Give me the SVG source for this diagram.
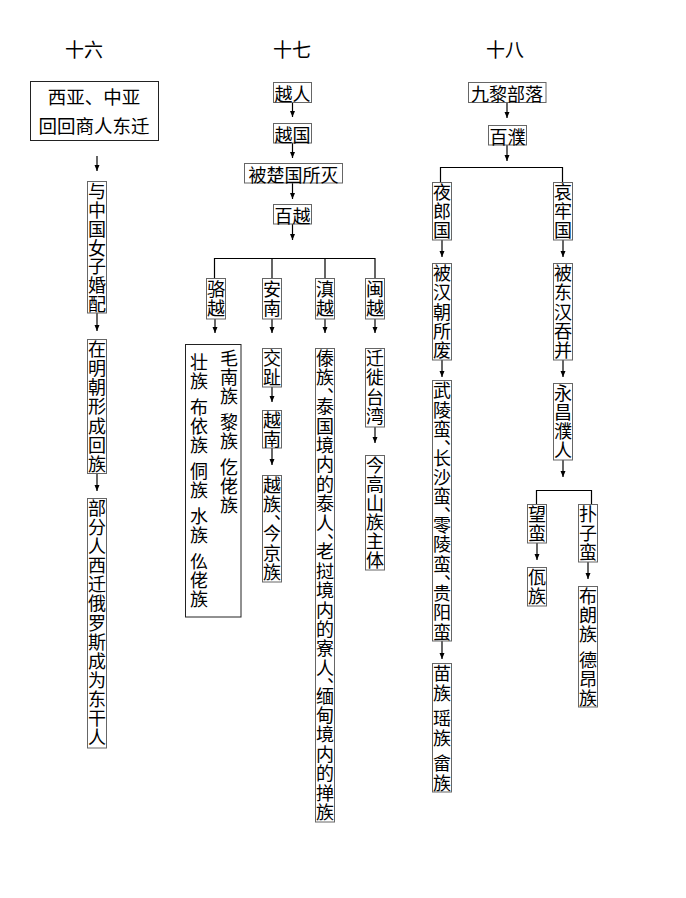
<svg xmlns="http://www.w3.org/2000/svg" width="686" height="898" viewBox="0 0 686 898">
<defs>
<style>
.t { font-family: "Noto Sans CJK SC", "Noto Sans CJK TC", sans-serif; font-size: 18px; fill: #000; text-anchor: middle; dominant-baseline: central; }
.v { font-family: "Noto Sans CJK SC", "Noto Sans CJK TC", sans-serif; font-size: 18px; fill: #000; writing-mode: vertical-rl; text-anchor: start; letter-spacing: 1.4px; }
.v .p { font-feature-settings: "vhal" 1; letter-spacing: 0; }
.h { font-size: 19px; }
.b { fill: #fff; stroke: #666; stroke-width: 1; }
.bb { fill: #fff; stroke: #222; stroke-width: 1; }
.c { stroke: #000; stroke-width: 1.2; fill: none; }
.a { marker-end: url(#ah); }
</style>
<marker id="ah" markerUnits="userSpaceOnUse" markerWidth="6" markerHeight="7" viewBox="0 0 6 7" refX="6" refY="3.5" orient="auto">
<path d="M0,1 L6,3.5 L0,6 z" fill="#000"/>
</marker>
</defs>
<rect width="686" height="898" fill="#fff"/>

<g id="headers">
<text class="t h" x="84" y="48">十六</text>
<text class="t h" x="292" y="48">十七</text>
<text class="t h" x="505" y="48">十八</text>
</g>

<g id="connectors">
<line class="c a" x1="97" y1="156" x2="97" y2="171"/>
<line class="c a" x1="97" y1="313" x2="97" y2="331"/>
<line class="c a" x1="97" y1="474" x2="97" y2="491"/>

<line class="c a" x1="292.5" y1="103" x2="292.5" y2="117"/>
<line class="c a" x1="292.5" y1="143" x2="292.5" y2="158"/>
<line class="c a" x1="292.5" y1="183" x2="292.5" y2="199"/>
<line class="c a" x1="292.5" y1="224" x2="292.5" y2="240"/>
<path class="c" d="M214.5,278 V258.5 H375 V278 M272,258.5 V278 M325,258.5 V278"/>
<line class="c a" x1="215" y1="319" x2="215" y2="333"/>
<line class="c a" x1="272" y1="319" x2="272" y2="333"/>
<line class="c a" x1="325" y1="319" x2="325" y2="333"/>
<line class="c a" x1="375" y1="319" x2="375" y2="333"/>
<line class="c a" x1="272" y1="387" x2="272" y2="402"/>
<line class="c a" x1="272" y1="448" x2="272" y2="465"/>
<line class="c a" x1="375" y1="427" x2="375" y2="443"/>

<line class="c a" x1="507" y1="103" x2="507" y2="118"/>
<line class="c a" x1="507" y1="145" x2="507" y2="161"/>
<path class="c" d="M440.5,182 V167.5 H562.5 V182"/>
<line class="c a" x1="442" y1="240" x2="442" y2="257"/>
<line class="c a" x1="563" y1="240" x2="563" y2="257"/>
<line class="c a" x1="442" y1="360" x2="442" y2="377"/>
<line class="c a" x1="563" y1="360" x2="563" y2="377"/>
<line class="c a" x1="442" y1="641" x2="442" y2="659"/>
<line class="c a" x1="563" y1="460" x2="563" y2="477"/>
<path class="c" d="M536.5,504 V490.5 H591.5 V504"/>
<line class="c a" x1="537" y1="543" x2="537" y2="560"/>
<line class="c a" x1="588" y1="562" x2="588" y2="579"/>
</g>

<!-- 十六 -->
<g id="n16-1">
<rect class="bb" x="30.5" y="81.5" width="128" height="59"/>
<text class="t" x="94" y="96" style="font-size:18.5px">西亚、中亚</text>
<text class="t" x="94" y="125" style="font-size:18.5px">回回商人东迁</text>
</g>
<g id="n16-2">
<rect class="b" x="87.5" y="181.5" width="19" height="131.5"/>
<text class="v" x="97" y="182" style="letter-spacing:0.9px">与中国女子婚配</text>
</g>
<g id="n16-3">
<rect class="b" x="87.5" y="339.5" width="19" height="134"/>
<text class="v" x="97" y="340" style="letter-spacing:1.2px">在明朝形成回族</text>
</g>
<g id="n16-4">
<rect class="b" x="87.5" y="498.5" width="19" height="249.5"/>
<text class="v" x="97" y="498.8" style="letter-spacing:1.15px">部分人西迁俄罗斯成为东干人</text>
</g>

<!-- 十七 -->
<g id="n17-1">
<rect class="b" x="273.5" y="82.5" width="38" height="20"/>
<text class="t" x="292.5" y="92.5">越人</text>
</g>
<g id="n17-2">
<rect class="b" x="273.5" y="123.5" width="38" height="19.5"/>
<text class="t" x="292.5" y="133.5">越国</text>
</g>
<g id="n17-3">
<rect class="b" x="244.5" y="163.5" width="98" height="19.5"/>
<text class="t" x="293.5" y="173.5">被楚国所灭</text>
</g>
<g id="n17-4">
<rect class="b" x="273.5" y="204.5" width="38" height="19.5"/>
<text class="t" x="292.5" y="214.5">百越</text>
</g>
<g id="n17-luoyue">
<rect class="b" x="206.5" y="278.5" width="19" height="40.5"/>
<text class="v" x="216" y="280" style="letter-spacing:1.5px">骆越</text>
</g>
<g id="n17-annan">
<rect class="b" x="262.5" y="278.5" width="19" height="40.5"/>
<text class="v" x="272" y="280" style="letter-spacing:1.5px">安南</text>
</g>
<g id="n17-dianyue">
<rect class="b" x="315.5" y="278.5" width="19" height="40.5"/>
<text class="v" x="325" y="280" style="letter-spacing:1.5px">滇越</text>
</g>
<g id="n17-minyue">
<rect class="b" x="365.5" y="278.5" width="19" height="40.5"/>
<text class="v" x="375" y="280" style="letter-spacing:1.5px">闽越</text>
</g>
<g id="n17-zhuang">
<rect class="bb" x="185.5" y="344.5" width="55.5" height="272.5"/>
<text class="v" x="229" y="349" style="letter-spacing:1px">毛南族<tspan y="413">黎族</tspan><tspan y="458">仡佬族</tspan></text>
<text class="v" x="199" y="353" style="letter-spacing:1px">壮族<tspan y="398">布依族</tspan><tspan y="462">侗族</tspan><tspan y="507">水族</tspan><tspan y="552">仫佬族</tspan></text>
</g>
<g id="n17-jiaozhi">
<rect class="b" x="262.5" y="348.5" width="19" height="38.5"/>
<text class="v" x="272" y="349" style="letter-spacing:1.5px">交趾</text>
</g>
<g id="n17-yuenan">
<rect class="b" x="262.5" y="410.5" width="19" height="37.5"/>
<text class="v" x="272" y="411" style="letter-spacing:1px">越南</text>
</g>
<g id="n17-jing">
<rect class="b" x="262.5" y="475.5" width="19" height="106.5"/>
<text class="v" x="272" y="476.2">越族<tspan class="p" y="514.3">、</tspan><tspan y="524.2">今京族</tspan></text>
</g>
<g id="n17-dai">
<rect class="b" x="315.5" y="348.5" width="19" height="473.5"/>
<text class="v" x="325" y="349.2">傣族<tspan class="p" y="387.3">、</tspan><tspan y="397.2">泰国境内的泰人</tspan><tspan class="p" y="532.3">、</tspan><tspan y="542.2">老挝境内的寮人</tspan><tspan class="p" y="677.3">、</tspan><tspan y="687.2">缅甸境内的掸族</tspan></text>
</g>
<g id="n17-taiwan">
<rect class="b" x="365.5" y="348.5" width="19" height="78.5"/>
<text class="v" x="375" y="349" style="letter-spacing:1.5px">迁徙台湾</text>
</g>
<g id="n17-gaoshan">
<rect class="b" x="365.5" y="455.5" width="19" height="114.5"/>
<text class="v" x="375" y="456" style="letter-spacing:1px">今高山族主体</text>
</g>

<!-- 十八 -->
<g id="n18-1">
<rect class="b" x="468.5" y="82.5" width="77.5" height="20"/>
<text class="t" x="507" y="92.5">九黎部落</text>
</g>
<g id="n18-2">
<rect class="b" x="488.5" y="125.5" width="38" height="19.5"/>
<text class="t" x="507.5" y="135.5">百濮</text>
</g>
<g id="n18-yelang">
<rect class="b" x="432.5" y="182.5" width="19" height="57.5"/>
<text class="v" x="442" y="183" style="letter-spacing:1px">夜郎国</text>
</g>
<g id="n18-ailao">
<rect class="b" x="553.5" y="182.5" width="19" height="57.5"/>
<text class="v" x="563" y="183" style="letter-spacing:1px">哀牢国</text>
</g>
<g id="n18-hanfei">
<rect class="b" x="432.5" y="263.5" width="19" height="96.5"/>
<text class="v" x="442" y="264.3" style="letter-spacing:1.2px">被汉朝所废</text>
</g>
<g id="n18-tunbing">
<rect class="b" x="553.5" y="263.5" width="19" height="96.5"/>
<text class="v" x="563" y="264.3" style="letter-spacing:1.2px">被东汉吞并</text>
</g>
<g id="n18-man">
<rect class="b" x="432.5" y="380.5" width="19" height="260.5"/>
<text class="v" x="442" y="381.5">武陵蛮<tspan class="p" y="439">、</tspan><tspan y="448.9">长沙蛮</tspan><tspan class="p" y="506.4">、</tspan><tspan y="516.3">零陵蛮</tspan><tspan class="p" y="573.8">、</tspan><tspan y="583.7">贵阳蛮</tspan></text>
</g>
<g id="n18-miao">
<rect class="b" x="432.5" y="663.5" width="19" height="128.5"/>
<text class="v" x="442" y="664.5">苗族<tspan y="709.3">瑶族</tspan><tspan y="754.1">畲族</tspan></text>
</g>
<g id="n18-yongchang">
<rect class="b" x="553.5" y="383.5" width="19" height="76.5"/>
<text class="v" x="563" y="384" style="letter-spacing:1px">永昌濮人</text>
</g>
<g id="n18-wangman">
<rect class="b" x="527.5" y="504.5" width="19" height="38.5"/>
<text class="v" x="537" y="505" style="letter-spacing:1.5px">望蛮</text>
</g>
<g id="n18-wa">
<rect class="b" x="527.5" y="567.5" width="19" height="38.5"/>
<text class="v" x="537" y="568" style="letter-spacing:1.5px">佤族</text>
</g>
<g id="n18-puzi">
<rect class="b" x="578.5" y="504.5" width="19" height="57.5"/>
<text class="v" x="588" y="505" style="letter-spacing:1px">扑子蛮</text>
</g>
<g id="n18-bulang">
<rect class="b" x="578.5" y="586.5" width="19" height="120.5"/>
<text class="v" x="588" y="587.5" style="letter-spacing:1px">布朗族<tspan y="651">德昂族</tspan></text>
</g>
</svg>
